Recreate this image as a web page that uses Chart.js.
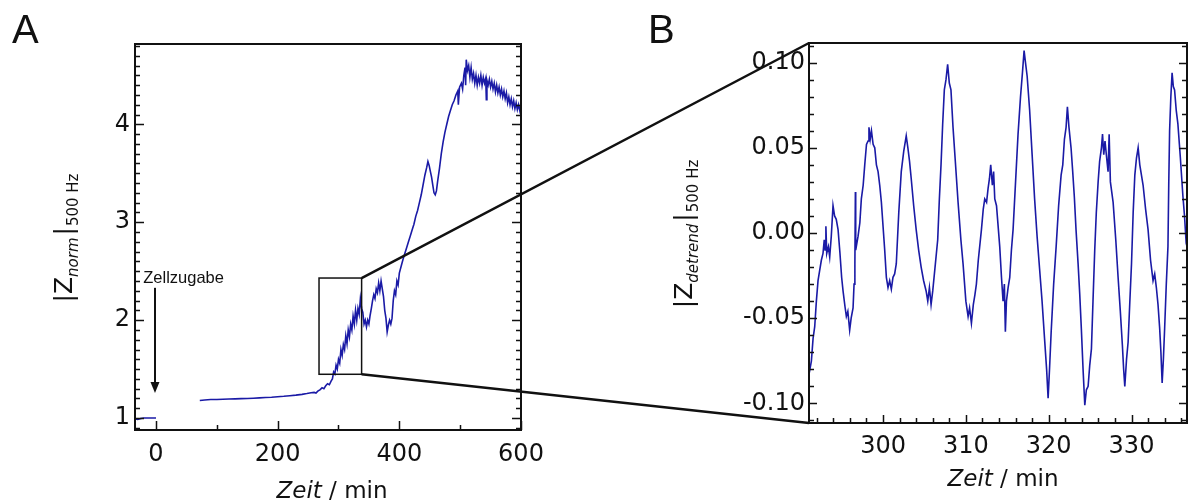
<!DOCTYPE html>
<html>
<head>
<meta charset="utf-8">
<script src="https://cdn.jsdelivr.net/npm/chart.js@4.4.1/dist/chart.umd.min.js"></script>
<style>
  html, body { margin: 0; padding: 0; background: #fff; }
  #wrap { position: relative; width: 1188px; height: 504px; overflow: hidden; }
  canvas { position: absolute; top: 0; }
  #cA { left: 0; }
  #cB { left: 600px; }
  #over { left: 0; pointer-events: none; }
</style>
</head>
<body>
<div id="wrap">
  <canvas id="cA" width="600" height="504"></canvas>
  <canvas id="cB" width="588" height="504"></canvas>
  <canvas id="over" width="1188" height="504"></canvas>
</div>
<script>
// ---- panel A: |Z_norm| at 500 Hz over the whole run ----
const aTimeBefore = [-34, -30, -25, -20, -15, -10, -5, 0];
const aValBefore  = [0.99, 0.985, 0.995, 1.0, 1.0, 1.0, 1.0, 1.0];

const aTime = [72, 80, 90, 100, 110, 120, 130, 140, 150, 160, 170, 180, 190, 200, 210, 220, 230, 240, 248, 255,
  260, 263, 266, 270, 273, 276, 279, 282, 285, 288, 290, 292, 294, 296, 298, 300, 302, 304, 306, 308,
  310, 312, 314, 316, 318, 320, 322, 324, 326, 328, 330, 332, 334, 336, 338, 340, 342, 344, 346, 348,
  350, 352, 354, 356, 358, 360, 362, 364, 366, 368, 370, 372, 374, 376, 378, 380, 382, 384, 386, 388,
  390, 392, 394, 396, 398, 400, 403, 406, 409, 412, 415, 418, 421, 424, 427, 430, 433, 436, 439, 442,
  445, 447, 449, 451, 453, 455, 457, 459, 461, 463, 466, 469, 472, 475, 478, 481, 484, 487, 490, 493,
  496, 497, 499, 502, 504, 506, 508, 509, 510, 512, 514, 516, 518, 520, 522, 524, 526, 528, 530, 532,
  534, 536, 538, 540, 542, 543, 544, 546, 548, 550, 552, 554, 556, 558, 560, 562, 564, 566, 568, 570,
  572, 574, 576, 578, 580, 582, 584, 586, 588, 590, 592, 594, 596, 598, 600];
const aVal = [1.18, 1.185, 1.19, 1.19, 1.192, 1.194, 1.196, 1.198, 1.2, 1.203, 1.206, 1.21, 1.213, 1.218, 1.222, 1.228, 1.234, 1.242, 1.25, 1.258,
  1.262, 1.255, 1.275, 1.29, 1.31, 1.30, 1.33, 1.35, 1.34, 1.38, 1.40, 1.47, 1.45, 1.54, 1.50, 1.60, 1.56, 1.70, 1.64, 1.75,
  1.70, 1.84, 1.76, 1.90, 1.83, 1.96, 1.90, 2.04, 1.96, 2.10, 2.00, 2.12, 2.06, 2.22, 2.12, 2.08, 1.96, 2.00, 1.93, 2.00,
  1.96, 2.05, 2.12, 2.20, 2.26, 2.22, 2.32, 2.28, 2.38, 2.30, 2.40, 2.32, 2.24, 2.10, 2.02, 1.88, 1.95, 2.00, 1.96, 2.02,
  2.20, 2.30, 2.26, 2.40, 2.36, 2.48, 2.55, 2.62, 2.68, 2.74, 2.80, 2.86, 2.92, 2.98, 3.06, 3.12, 3.20, 3.28, 3.38, 3.48,
  3.56, 3.62, 3.58, 3.52, 3.46, 3.38, 3.30, 3.28, 3.32, 3.42, 3.55, 3.70, 3.82, 3.92, 4.00, 4.08, 4.14, 4.20, 4.24, 4.30,
  4.34, 4.20, 4.38, 4.42, 4.36, 4.50, 4.58, 4.40, 4.66, 4.55, 4.60, 4.48, 4.58, 4.46, 4.52, 4.42, 4.50, 4.40, 4.48, 4.42,
  4.50, 4.40, 4.48, 4.42, 4.47, 4.25, 4.45, 4.40, 4.46, 4.38, 4.44, 4.36, 4.42, 4.33, 4.40, 4.32, 4.38, 4.30, 4.36, 4.28,
  4.34, 4.26, 4.32, 4.22, 4.28, 4.20, 4.26, 4.18, 4.24, 4.16, 4.22, 4.15, 4.20, 4.14, 4.20];

const aXTicks = [0, 200, 400, 600];
const aYTicks = [1, 2, 3, 4];
const zoomBoxTime = [268, 338];
const zoomBoxVal = [1.447, 2.43];

// ---- panel B: detrended |Z| inside the zoom window ----
const bTime = [291.1, 291.35, 291.55, 291.75, 291.95, 292.15, 292.35, 292.55, 292.75, 292.9, 293.0, 293.1, 293.2, 293.4, 293.56, 293.75, 293.96, 294.15, 294.35, 294.57,
  294.8, 295.0, 295.17, 295.4, 295.57, 295.75, 295.97, 296.15, 296.38, 296.5, 296.6, 296.66, 296.7, 296.98, 297.2, 297.38, 297.6, 297.79, 298.0, 298.19,
  298.3, 298.45, 298.6, 298.8, 299.0, 299.2, 299.4, 299.6, 299.8, 300.0, 300.2, 300.4, 300.6, 300.8, 301.0, 301.2, 301.4, 301.6, 301.9, 302.2,
  302.5, 302.8, 303.0, 303.2, 303.4, 303.7, 304.0, 304.3, 304.6, 304.9, 305.2, 305.4, 305.6, 305.8, 306.0, 306.2, 306.4, 306.6, 306.8, 307.0,
  307.2, 307.4, 307.6, 307.8, 308.0, 308.2, 308.45, 308.7, 309.06, 309.4, 309.66, 310.0, 310.27, 310.45, 310.67, 310.9, 311.1, 311.27, 311.5, 311.88,
  312.1, 312.28, 312.5, 312.68, 312.85, 313.0, 313.2, 313.35, 313.49, 313.7, 314.09, 314.3, 314.49, 314.65, 314.77, 314.9, 315.1, 315.3, 315.5, 315.7,
  316.0, 316.3, 316.6, 316.83, 317.03, 317.2, 317.4, 317.7, 318.0, 318.3, 318.6, 318.9, 319.2, 319.5, 319.75, 319.93, 320.1, 320.3, 320.6, 320.9,
  321.2, 321.5, 321.7, 321.9, 322.1, 322.26, 322.45, 322.7, 322.9, 323.1, 323.3, 323.55, 323.75, 323.95, 324.15, 324.36, 324.55, 324.76, 324.95, 325.16,
  325.35, 325.56, 325.75, 325.97, 326.15, 326.37, 326.5, 326.65, 326.8, 327.0, 327.17, 327.3, 327.45, 327.78, 328.1, 328.38, 328.65, 328.9, 329.05, 329.19,
  329.4, 329.59, 329.8, 330.0, 330.2, 330.4, 330.6, 330.8, 331.0, 331.2, 331.4, 331.7, 332.0, 332.3, 332.6, 332.8, 333.0, 333.2, 333.4, 333.55,
  333.7, 333.85, 334.0, 334.2, 334.4, 334.5, 334.6, 334.75, 334.9, 335.05, 335.2, 335.4, 335.6, 335.9, 336.2, 336.4, 336.6, 336.8];
const bVal = [-0.082, -0.075, -0.062, -0.055, -0.040, -0.028, -0.022, -0.016, -0.012, -0.004, -0.010, 0.004, -0.012, -0.008, -0.014, -0.002, 0.016, 0.010, 0.008, 0.002,
  -0.012, -0.026, -0.034, -0.043, -0.049, -0.046, -0.057, -0.050, -0.044, -0.030, -0.018, 0.024, -0.010, -0.002, 0.006, 0.020, 0.028, 0.040, 0.052, 0.054,
  0.062, 0.055, 0.060, 0.052, 0.050, 0.040, 0.036, 0.028, 0.018, 0.004, -0.010, -0.026, -0.032, -0.028, -0.033, -0.026, -0.024, -0.018, 0.012, 0.036,
  0.048, 0.057, 0.050, 0.042, 0.032, 0.016, 0.002, -0.010, -0.020, -0.028, -0.034, -0.040, -0.032, -0.042, -0.034, -0.024, -0.014, -0.004, 0.020, 0.040,
  0.064, 0.084, 0.090, 0.099, 0.088, 0.084, 0.062, 0.044, 0.018, -0.004, -0.018, -0.040, -0.049, -0.044, -0.053, -0.042, -0.036, -0.030, -0.016, 0.002,
  0.014, 0.020, 0.018, 0.026, 0.032, 0.040, 0.028, 0.036, 0.020, 0.016, -0.008, -0.026, -0.040, -0.030, -0.058, -0.040, -0.032, -0.026, -0.010, 0.002,
  0.030, 0.058, 0.080, 0.094, 0.107, 0.100, 0.092, 0.072, 0.046, 0.020, -0.002, -0.021, -0.040, -0.062, -0.080, -0.097, -0.080, -0.058, -0.030, -0.008,
  0.016, 0.034, 0.040, 0.055, 0.062, 0.074, 0.062, 0.050, 0.036, 0.021, 0.002, -0.018, -0.036, -0.057, -0.080, -0.101, -0.092, -0.090, -0.078, -0.068,
  -0.040, -0.010, 0.012, 0.030, 0.042, 0.050, 0.058, 0.046, 0.054, 0.044, 0.036, 0.058, 0.030, 0.018, -0.004, -0.026, -0.046, -0.066, -0.080, -0.090,
  -0.074, -0.064, -0.040, -0.018, 0.012, 0.034, 0.044, 0.050, 0.040, 0.034, 0.028, 0.014, 0.002, -0.016, -0.028, -0.024, -0.032, -0.042, -0.056, -0.070,
  -0.088, -0.074, -0.056, -0.030, -0.008, 0.030, 0.060, 0.080, 0.094, 0.086, 0.084, 0.072, 0.064, 0.044, 0.022, 0.010, -0.006, -0.010];

const bXTicks = [300, 310, 320, 330];
const bYTicks = [-0.10, -0.05, 0.00, 0.05, 0.10];

const lineBlue = '#1a1aa6';
const tickFont = { family: 'DejaVu Sans', size: 24 };

// mixed-font text runs (italic subscripts etc.)
function drawRuns(ctx, runs, x, y, rotate) {
  ctx.save();
  ctx.translate(x, y);
  if (rotate) ctx.rotate(-Math.PI / 2);
  ctx.textBaseline = 'alphabetic';
  ctx.textAlign = 'left';
  let total = 0;
  runs.forEach(r => { ctx.font = r.f; total += ctx.measureText(r.t).width + (r.gap || 0); });
  let cx = -total / 2;
  runs.forEach(r => {
    ctx.font = r.f;
    ctx.fillStyle = '#111';
    ctx.fillText(r.t, cx, r.dy || 0);
    cx += ctx.measureText(r.t).width + (r.gap || 0);
  });
  ctx.restore();
}

// frame + inward ticks on left, bottom and right
const frameTicks = {
  id: 'frameTicks',
  afterDraw(chart, args, o) {
    const { ctx, chartArea: a, scales: { x, y } } = chart;
    ctx.save();
    ctx.strokeStyle = '#111';
    ctx.lineWidth = 1.5;
    ctx.beginPath();
    const near = (v, s) => Math.abs(v / s - Math.round(v / s)) < 1e-6;
    for (let v = Math.ceil(x.min / o.xMinor) * o.xMinor; v <= x.max + 1e-9; v += o.xMinor) {
      const px = Math.round(x.getPixelForValue(v)) + 0.5;
      const len = near(v, o.xMajor) ? o.major : o.minor;
      ctx.moveTo(px, a.bottom); ctx.lineTo(px, a.bottom - len);
    }
    for (let v = Math.ceil(y.min / o.yMinor - 1e-6) * o.yMinor; v <= y.max + 1e-9; v += o.yMinor) {
      const py = Math.round(y.getPixelForValue(v)) + 0.5;
      const len = near(v, o.yMajor) ? o.major : o.minor;
      ctx.moveTo(a.left, py); ctx.lineTo(a.left + len, py);
      ctx.moveTo(a.right, py); ctx.lineTo(a.right - len, py);
    }
    ctx.stroke();
    ctx.lineWidth = 2;
    ctx.strokeRect(a.left, a.top, a.right - a.left, a.bottom - a.top);
    ctx.restore();
    if (o.extra) o.extra(chart);
  }
};

function fixedTicks(list) {
  return scale => { scale.ticks = list.map(v => ({ value: v })); };
}

const chartA = new Chart(document.getElementById('cA'), {
  type: 'line',
  data: {
    datasets: [{
      data: aTimeBefore.map((t, i) => ({ x: t, y: aValBefore[i] }))
        .concat([{ x: 36, y: null }])
        .concat(aTime.map((t, i) => ({ x: t, y: aVal[i] }))),
      borderColor: lineBlue, borderWidth: 1.6, pointRadius: 0, tension: 0, spanGaps: false
    }]
  },
  options: {
    responsive: false, animation: false,
    layout: { padding: { left: 0, top: 44, right: 79, bottom: 0 } },
    plugins: {
      legend: { display: false }, tooltip: { enabled: false },
      frameTicks: {
        xMinor: 100, xMajor: 200, yMinor: 0.1, yMajor: 1, major: 9, minor: 5,
        extra(chart) {
          const { ctx, chartArea: a, scales: { x, y } } = chart;
          // zoom window box
          ctx.save();
          ctx.strokeStyle = '#111';
          ctx.lineWidth = 1.5;
          const bx0 = x.getPixelForValue(zoomBoxTime[0]), bx1 = x.getPixelForValue(zoomBoxTime[1]);
          const by0 = y.getPixelForValue(zoomBoxVal[0]), by1 = y.getPixelForValue(zoomBoxVal[1]);
          ctx.strokeRect(bx0, by1, bx1 - bx0, by0 - by1);
          // cell addition arrow
          const ax = x.getPixelForValue(0) - 1;
          const ay0 = y.getPixelForValue(2.33), ay1 = y.getPixelForValue(1.256);
          ctx.lineWidth = 2;
          ctx.beginPath(); ctx.moveTo(ax, ay0); ctx.lineTo(ax, ay1 - 8); ctx.stroke();
          ctx.fillStyle = '#111';
          ctx.beginPath(); ctx.moveTo(ax - 4.5, ay1 - 11); ctx.lineTo(ax + 4.5, ay1 - 11); ctx.lineTo(ax, ay1); ctx.closePath(); ctx.fill();
          ctx.font = '16.5px "Liberation Sans"';
          ctx.textBaseline = 'alphabetic';
          ctx.fillText('Zellzugabe', x.getPixelForValue(-21), y.getPixelForValue(2.38));
          // panel letter and axis titles
          ctx.font = '40px "Liberation Sans"';
          ctx.fillText('A', 12, 43);
          ctx.restore();
          drawRuns(ctx, [
            { t: 'Zeit', f: 'italic 23px "DejaVu Sans"' },
            { t: ' / min', f: '23px "DejaVu Sans"' }
          ], (a.left + a.right) / 2 + 4, 498, false);
          drawRuns(ctx, [
            { t: '|Z', f: '25px "DejaVu Sans"' },
            { t: 'norm', f: 'italic 15px "DejaVu Sans"', dy: 6, gap: 2 },
            { t: '|', f: '25px "DejaVu Sans"', gap: 1 },
            { t: '500 Hz', f: '15px "DejaVu Sans"', dy: 6 }
          ], 72, 238, true);
        }
      }
    },
    scales: {
      x: {
        type: 'linear', min: -34.5, max: 600,
        afterBuildTicks: fixedTicks(aXTicks),
        afterFit: s => { s.height = 74; },
        grid: { display: false, drawTicks: false }, border: { display: false },
        ticks: { font: tickFont, color: '#111', padding: 10, maxRotation: 0 }
      },
      y: {
        type: 'linear', min: 0.878, max: 4.82,
        afterBuildTicks: fixedTicks(aYTicks),
        afterFit: s => { s.width = 135; },
        grid: { display: false, drawTicks: false }, border: { display: false },
        ticks: { font: tickFont, color: '#111', padding: 5 }
      }
    }
  },
  plugins: [frameTicks]
});

const chartB = new Chart(document.getElementById('cB'), {
  type: 'line',
  data: {
    datasets: [{
      data: bTime.map((t, i) => ({ x: t, y: bVal[i] })),
      borderColor: lineBlue, borderWidth: 1.6, pointRadius: 0, tension: 0
    }]
  },
  options: {
    responsive: false, animation: false,
    layout: { padding: { left: 0, top: 43, right: 1, bottom: 0 } },
    plugins: {
      legend: { display: false }, tooltip: { enabled: false },
      frameTicks: {
        xMinor: 2, xMajor: 10, yMinor: 0.01, yMajor: 0.05, major: 8, minor: 5,
        extra(chart) {
          const { ctx, chartArea: a } = chart;
          ctx.save();
          ctx.fillStyle = '#111';
          ctx.font = '40px "Liberation Sans"';
          ctx.textBaseline = 'alphabetic';
          ctx.fillText('B', 48, 43);
          ctx.restore();
          drawRuns(ctx, [
            { t: 'Zeit', f: 'italic 23px "DejaVu Sans"' },
            { t: ' / min', f: '23px "DejaVu Sans"' }
          ], (a.left + a.right) / 2 + 5, 486, false);
          drawRuns(ctx, [
            { t: '|Z', f: '25px "DejaVu Sans"' },
            { t: 'detrend', f: 'italic 15px "DejaVu Sans"', dy: 6, gap: 2 },
            { t: '|', f: '25px "DejaVu Sans"', gap: 1 },
            { t: '500 Hz', f: '15px "DejaVu Sans"', dy: 6 }
          ], 92, 234, true);
        }
      }
    },
    scales: {
      x: {
        type: 'linear', min: 291.06, max: 336.7,
        afterBuildTicks: fixedTicks(bXTicks),
        afterFit: s => { s.height = 81; },
        grid: { display: false, drawTicks: false }, border: { display: false },
        ticks: { font: tickFont, color: '#111', padding: 9, maxRotation: 0 }
      },
      y: {
        type: 'linear', min: -0.1115, max: 0.1115,
        afterBuildTicks: fixedTicks(bYTicks),
        afterFit: s => { s.width = 209; },
        grid: { display: false, drawTicks: false }, border: { display: false },
        ticks: { font: tickFont, color: '#111', padding: 4, callback: v => v.toFixed(2) }
      }
    }
  },
  plugins: [frameTicks]
});

// connector lines from the zoom box in A to the frame of B
(function () {
  const ctx = document.getElementById('over').getContext('2d');
  const ax = chartA.scales.x, ay = chartA.scales.y;
  const bArea = chartB.chartArea;
  const offB = 600;
  const x1 = ax.getPixelForValue(zoomBoxTime[1]);
  ctx.strokeStyle = '#111';
  ctx.lineWidth = 2.5;
  ctx.beginPath();
  ctx.moveTo(x1, ay.getPixelForValue(zoomBoxVal[1]));
  ctx.lineTo(offB + bArea.left, bArea.top);
  ctx.moveTo(x1, ay.getPixelForValue(zoomBoxVal[0]));
  ctx.lineTo(offB + bArea.left, bArea.bottom);
  ctx.stroke();
})();
</script>
</body>
</html>
